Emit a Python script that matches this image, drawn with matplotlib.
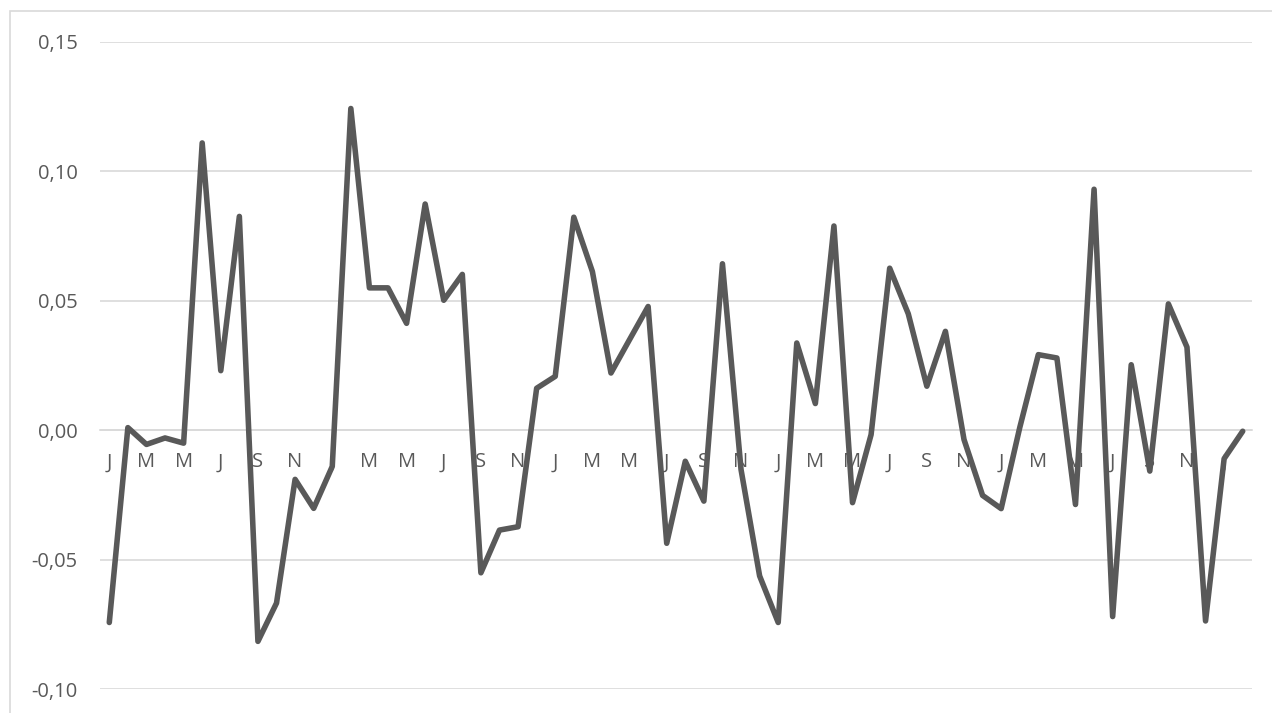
import matplotlib
matplotlib.use("Agg")
import matplotlib.pyplot as plt
from matplotlib.patches import Rectangle

# monthly variation, 62 months starting in January
months = ["J", "F", "M", "A", "M", "J", "J", "A", "S", "O", "N", "D"] * 5 + ["J", "F"]
values = [
    -0.0743, 0.0010, -0.0055, -0.0030, -0.0050, 0.1110, 0.0230, 0.0826, -0.0816, -0.0668,
    -0.0190, -0.0302, -0.0140, 0.1243, 0.0550, 0.0550, 0.0413, 0.0874, 0.0502, 0.0602,
    -0.0551, -0.0386, -0.0373, 0.0162, 0.0208, 0.0823, 0.0613, 0.0221, 0.0350, 0.0478,
    -0.0437, -0.0120, -0.0274, 0.0643, -0.0152, -0.0563, -0.0743, 0.0337, 0.0103, 0.0789,
    -0.0280, -0.0017, 0.0626, 0.0450, 0.0170, 0.0382, -0.0036, -0.0252, -0.0303, 0.0010,
    0.0292, 0.0279, -0.0287, 0.0931, -0.0720, 0.0253, -0.0158, 0.0488, 0.0321, -0.0737,
    -0.0110, -0.0004,
]
yticks = [-0.10, -0.05, 0.00, 0.05, 0.10, 0.15]
ytick_labels = ["-0,10", "-0,05", "0,00", "0,05", "0,10", "0,15"]

W, H = 1272, 713
fig = plt.figure(figsize=(W / 100, H / 100), dpi=100)
fig.patch.set_facecolor("white")

# chart area border (cropped on the right/bottom)
fig.patches.append(Rectangle((10 / W, -0.1), 1.2, 1 - 11 / H + 0.1, transform=fig.transFigure,
                             fill=False, edgecolor="#d9d9d9", linewidth=1.2))

ax = fig.add_axes([100 / W, (H - 689) / H, 1152 / W, (689 - 42) / H])
x = list(range(len(values)))
ax.plot(x, values, color="#595959", linewidth=4.0, solid_joinstyle="round",
        solid_capstyle="round", zorder=3)

ax.set_xlim(-0.5, len(values) - 0.5)
ax.set_ylim(-0.10, 0.15)
ax.set_yticks(yticks)
ax.set_yticklabels(ytick_labels)
ax.yaxis.grid(True, color="#d9d9d9", linewidth=1.2)
ax.set_axisbelow(True)

ax.set_xticks(x[::2])
ax.set_xticklabels(months[::2])

for s in ["top", "right", "left"]:
    ax.spines[s].set_visible(False)
ax.spines["bottom"].set_position(("data", 0))
ax.spines["bottom"].set_color("#d9d9d9")
ax.spines["bottom"].set_linewidth(1.2)

ax.tick_params(axis="y", length=0, pad=16, labelsize=14.5, labelcolor="#595959")
ax.tick_params(axis="x", length=0, pad=16, labelsize=14.5, labelcolor="#595959")
for lab in ax.get_xticklabels() + ax.get_yticklabels():
    lab.set_fontfamily("Open Sans")

fig.savefig("out.png", dpi=100, facecolor="white")
